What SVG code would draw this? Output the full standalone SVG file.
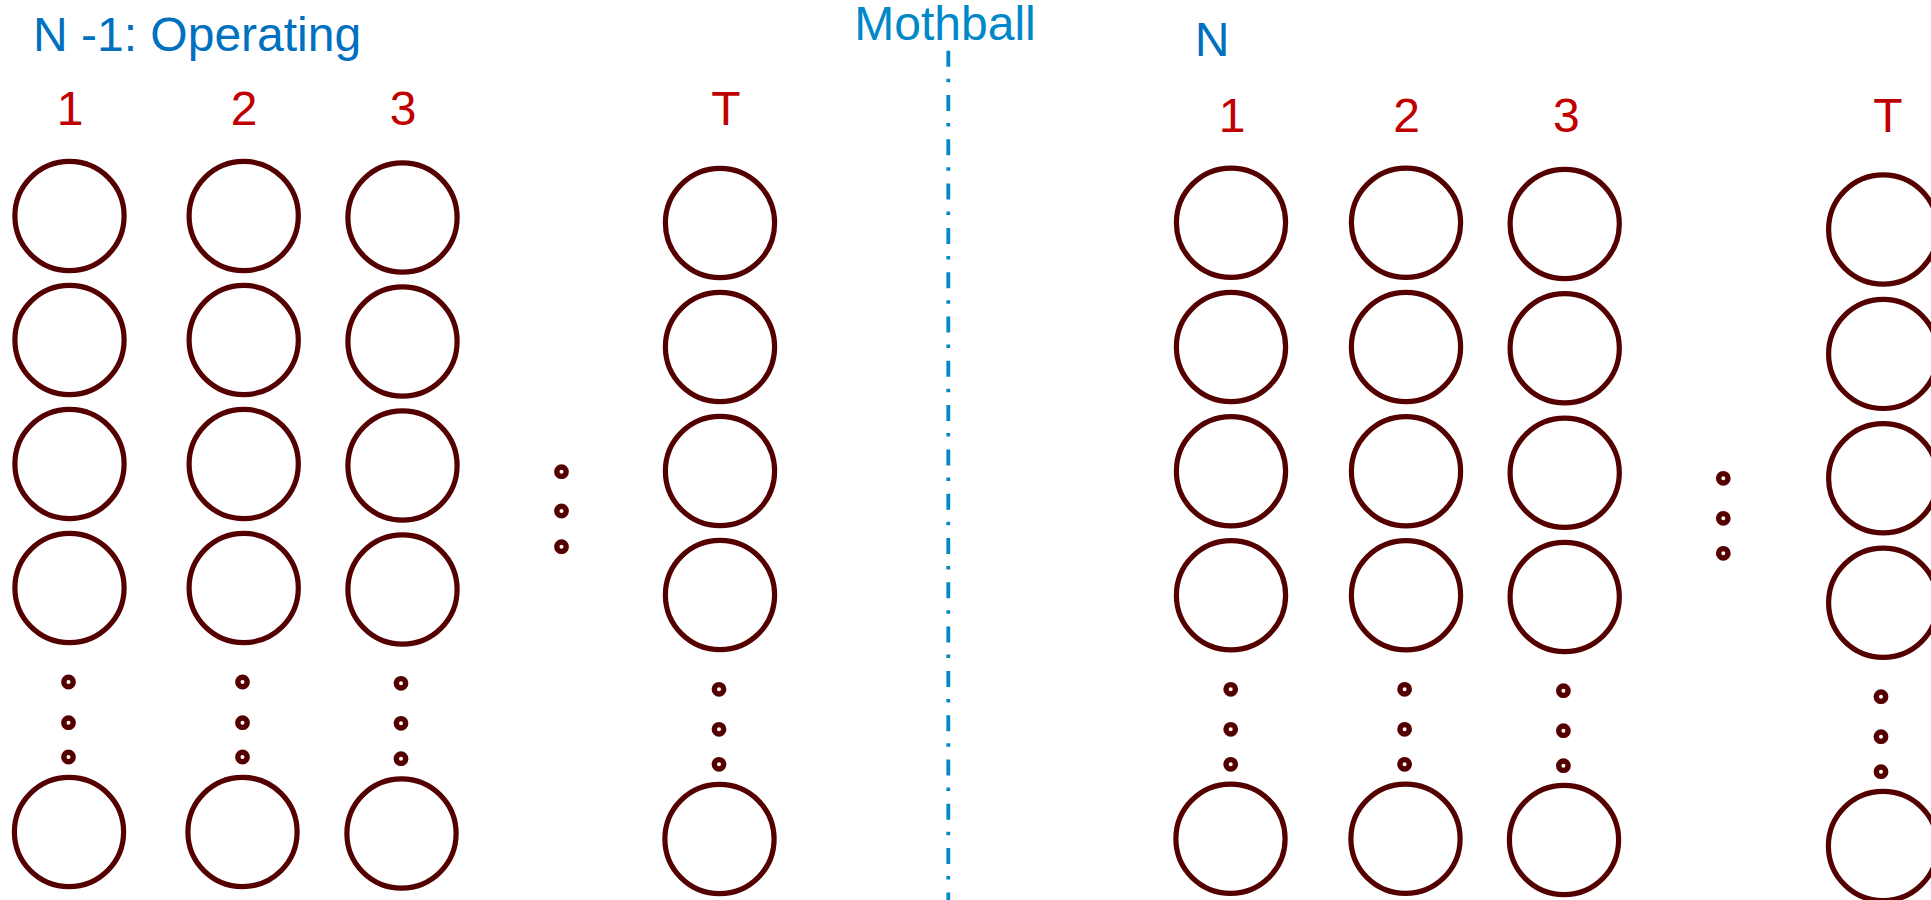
<svg xmlns="http://www.w3.org/2000/svg" width="1931" height="900" viewBox="0 0 1931 900">
<style>
.n{fill:none;stroke:#550000;stroke-width:5.2}
.d{fill:none;stroke:#550000;stroke-width:5.4}
.lbl{font-family:"Liberation Sans",Arial,sans-serif;font-size:48px;fill:#C00000;text-anchor:middle}
.ttl{font-family:"Liberation Sans",Arial,sans-serif;font-size:48px;fill:#0070C0}
.mb{font-family:"Liberation Sans",Arial,sans-serif;font-size:48px;fill:#0088C8;text-anchor:middle}
.sep{stroke:#0088C8;stroke-width:3.8;stroke-dasharray:16 12 3.5 12.8;fill:none}
</style>
<rect width="1931" height="900" fill="#fff"/>
<g id="titles">
<text class="ttl" x="33" y="50.7">N -1: Operating</text>
<text class="mb" x="945" y="39.5">Mothball</text>
<text class="ttl" x="1194.7" y="56">N</text>
</g>
<g id="connectors">
<line class="sep" x1="948.3" y1="50.7" x2="948.3" y2="900"/>
</g>
<g id="labels">
<text class="lbl" x="70" y="125">1</text>
<text class="lbl" x="244" y="125">2</text>
<text class="lbl" x="403" y="125">3</text>
<text class="lbl" x="726" y="125">T</text>
<text class="lbl" x="1232" y="131.7">1</text>
<text class="lbl" x="1406.5" y="131.7">2</text>
<text class="lbl" x="1566.4" y="131.7">3</text>
<text class="lbl" x="1888" y="131.7">T</text>
</g>
<g id="left-col1">
<circle class="n" cx="69.5" cy="216" r="54.6"/>
<circle class="n" cx="69.5" cy="340" r="54.6"/>
<circle class="n" cx="69.5" cy="464" r="54.6"/>
<circle class="n" cx="69.5" cy="588" r="54.6"/>
<circle class="d" cx="68.5" cy="682" r="4.7"/>
<circle class="d" cx="68.5" cy="722.7" r="4.7"/>
<circle class="d" cx="68.5" cy="757" r="4.7"/>
<circle class="n" cx="69" cy="832" r="54.6"/>
</g>
<g id="left-col2">
<circle class="n" cx="243.7" cy="216" r="54.6"/>
<circle class="n" cx="243.7" cy="340" r="54.6"/>
<circle class="n" cx="243.7" cy="464" r="54.6"/>
<circle class="n" cx="243.7" cy="588" r="54.6"/>
<circle class="d" cx="242.5" cy="682" r="4.7"/>
<circle class="d" cx="242.5" cy="722.7" r="4.7"/>
<circle class="d" cx="242.5" cy="757" r="4.7"/>
<circle class="n" cx="242.5" cy="832" r="54.6"/>
</g>
<g id="left-col3">
<circle class="n" cx="402.5" cy="217.5" r="54.6"/>
<circle class="n" cx="402.5" cy="341.5" r="54.6"/>
<circle class="n" cx="402.5" cy="465.5" r="54.6"/>
<circle class="n" cx="402.5" cy="589.5" r="54.6"/>
<circle class="d" cx="401" cy="683.3" r="4.7"/>
<circle class="d" cx="401" cy="723.3" r="4.7"/>
<circle class="d" cx="401" cy="758.7" r="4.7"/>
<circle class="n" cx="401.5" cy="833.5" r="54.6"/>
</g>
<g id="left-gap-dots">
<circle class="d" cx="561.5" cy="471.7" r="4.7"/>
<circle class="d" cx="561.5" cy="511" r="4.7"/>
<circle class="d" cx="561.5" cy="546.7" r="4.7"/>
</g>
<g id="left-colT">
<circle class="n" cx="720" cy="223" r="54.6"/>
<circle class="n" cx="720" cy="347" r="54.6"/>
<circle class="n" cx="720" cy="471" r="54.6"/>
<circle class="n" cx="720" cy="595" r="54.6"/>
<circle class="d" cx="719" cy="689.3" r="4.7"/>
<circle class="d" cx="719" cy="729.3" r="4.7"/>
<circle class="d" cx="719" cy="764.3" r="4.7"/>
<circle class="n" cx="719.5" cy="839" r="54.6"/>
</g>
<g id="right-col1">
<circle class="n" cx="1231" cy="222.7" r="54.6"/>
<circle class="n" cx="1231" cy="347" r="54.6"/>
<circle class="n" cx="1231" cy="471.3" r="54.6"/>
<circle class="n" cx="1231" cy="595.3" r="54.6"/>
<circle class="d" cx="1230.7" cy="689.3" r="4.7"/>
<circle class="d" cx="1230.7" cy="729.3" r="4.7"/>
<circle class="d" cx="1230.7" cy="764.3" r="4.7"/>
<circle class="n" cx="1230.5" cy="838.7" r="54.6"/>
</g>
<g id="right-col2">
<circle class="n" cx="1406" cy="222.7" r="54.6"/>
<circle class="n" cx="1406" cy="347" r="54.6"/>
<circle class="n" cx="1406" cy="471.3" r="54.6"/>
<circle class="n" cx="1406" cy="595.3" r="54.6"/>
<circle class="d" cx="1404.6" cy="689.3" r="4.7"/>
<circle class="d" cx="1404.6" cy="729.3" r="4.7"/>
<circle class="d" cx="1404.6" cy="764.3" r="4.7"/>
<circle class="n" cx="1405.5" cy="838.7" r="54.6"/>
</g>
<g id="right-col3">
<circle class="n" cx="1564.7" cy="224" r="54.6"/>
<circle class="n" cx="1564.7" cy="348.3" r="54.6"/>
<circle class="n" cx="1564.7" cy="472.7" r="54.6"/>
<circle class="n" cx="1564.7" cy="597" r="54.6"/>
<circle class="d" cx="1563.4" cy="690.7" r="4.7"/>
<circle class="d" cx="1563.4" cy="730.7" r="4.7"/>
<circle class="d" cx="1563.4" cy="765.7" r="4.7"/>
<circle class="n" cx="1564" cy="840" r="54.6"/>
</g>
<g id="right-gap-dots">
<circle class="d" cx="1723.3" cy="478.3" r="4.7"/>
<circle class="d" cx="1723.3" cy="518.3" r="4.7"/>
<circle class="d" cx="1723.3" cy="553.3" r="4.7"/>
</g>
<g id="right-colT">
<circle class="n" cx="1883.2" cy="229.5" r="54.6"/>
<circle class="n" cx="1883.2" cy="353.9" r="54.6"/>
<circle class="n" cx="1883.2" cy="478.3" r="54.6"/>
<circle class="n" cx="1883.2" cy="602.7" r="54.6"/>
<circle class="d" cx="1881" cy="696.7" r="4.7"/>
<circle class="d" cx="1881" cy="736.7" r="4.7"/>
<circle class="d" cx="1881" cy="771.7" r="4.7"/>
<circle class="n" cx="1883" cy="846" r="54.6"/>
</g>
</svg>
